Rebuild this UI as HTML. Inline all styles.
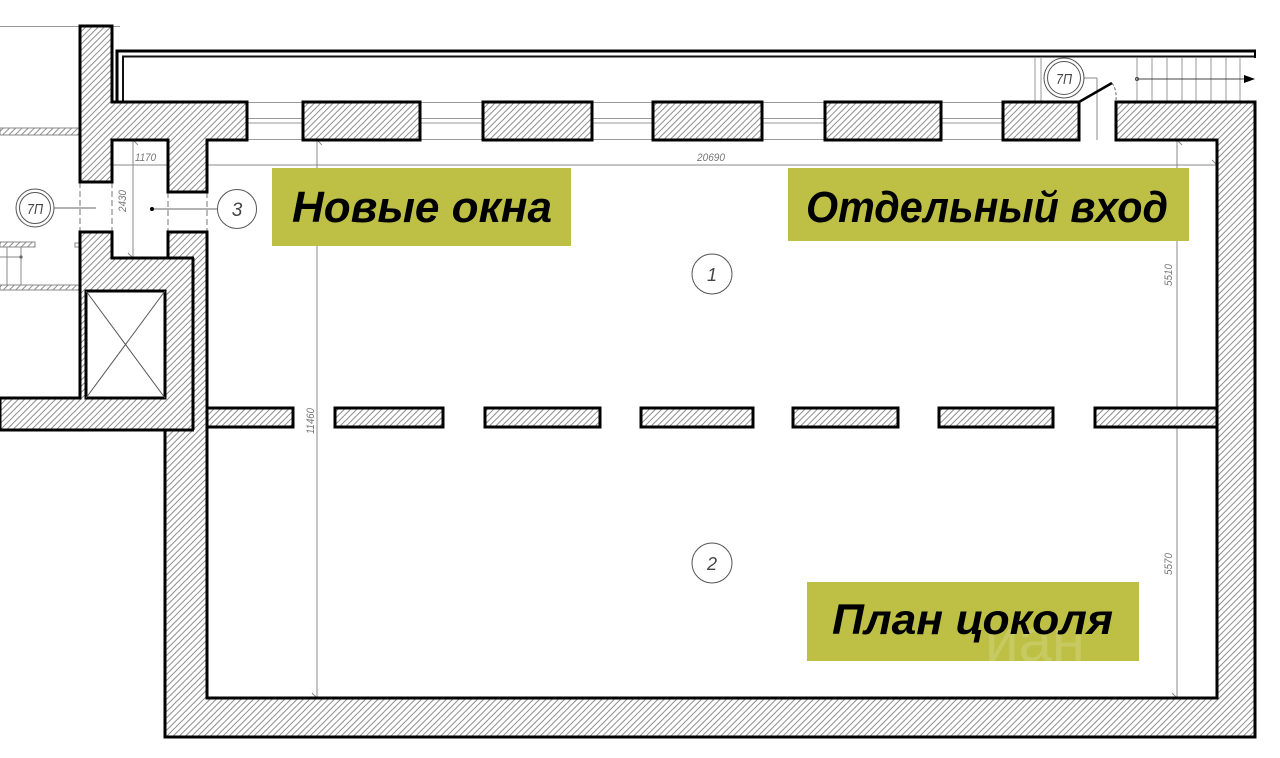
<!DOCTYPE html>
<html><head><meta charset="utf-8"><style>
html,body{margin:0;padding:0;background:#fff;}
svg{display:block;}
.dim{font-family:"Liberation Sans","DejaVu Sans",sans-serif;font-style:italic;font-size:11px;fill:#777;}
.lbl{font-family:"Liberation Sans","DejaVu Sans",sans-serif;font-weight:bold;font-style:italic;fill:#000;}
.num{font-family:"Liberation Sans","DejaVu Sans",sans-serif;font-style:italic;font-size:16px;fill:#444;}
</style></head><body>
<svg width="1280" height="758" viewBox="0 0 1280 758" xmlns="http://www.w3.org/2000/svg">
<defs>
<pattern id="h" patternUnits="userSpaceOnUse" width="4.4" height="4.4" patternTransform="rotate(45)">
<rect width="4.4" height="4.4" fill="#fff"/>
<line x1="0.5" y1="0" x2="0.5" y2="4.4" stroke="#7a7a7a" stroke-width="0.85"/>
</pattern>
</defs>
<rect width="1280" height="758" fill="#fff"/>

<!-- left-side misc -->
<line x1="0" y1="26.5" x2="120" y2="26.5" stroke="#999" stroke-width="1"/>
<rect x="0" y="128" width="80" height="7" fill="url(#h)" stroke="#888" stroke-width="1"/>
<rect x="0" y="242" width="35" height="5" fill="url(#h)" stroke="#888" stroke-width="1"/>
<rect x="75" y="243" width="4" height="4" fill="none" stroke="#888" stroke-width="1"/>
<line x1="7" y1="247" x2="7" y2="285" stroke="#888" stroke-width="1"/>
<line x1="21" y1="247" x2="21" y2="285" stroke="#888" stroke-width="1"/>
<line x1="0" y1="257" x2="21" y2="257" stroke="#888" stroke-width="1"/>
<circle cx="21" cy="257" r="1.6" fill="#666"/>
<rect x="0" y="285" width="80" height="5" fill="url(#h)" stroke="#888" stroke-width="1"/>

<!-- top double line -->
<path d="M117,102 V51 H1255" stroke="#000" stroke-width="3" fill="none"/>
<path d="M123,102 V56.5 H1255" stroke="#111" stroke-width="2" fill="none"/>
<line x1="1255" y1="49.5" x2="1255" y2="58" stroke="#000" stroke-width="2"/>

<!-- window frame lines -->
<g stroke="#999" stroke-width="1">
<line x1="247" y1="102.5" x2="1003" y2="102.5"/>
<line x1="247" y1="118.5" x2="1003" y2="118.5"/>
<line x1="247" y1="123" x2="1003" y2="123"/>
<line x1="247" y1="139.5" x2="1003" y2="139.5"/>
<line x1="1035" y1="57" x2="1035" y2="102"/>
<line x1="1041" y1="57" x2="1041" y2="102"/>
</g>

<!-- stairs -->
<g stroke="#999" stroke-width="1">
<line x1="1137" y1="58" x2="1137" y2="102"/>
<line x1="1152" y1="58" x2="1152" y2="102"/>
<line x1="1167" y1="58" x2="1167" y2="102"/>
<line x1="1182" y1="58" x2="1182" y2="102"/>
<line x1="1196" y1="58" x2="1196" y2="102"/>
<line x1="1211" y1="58" x2="1211" y2="102"/>
<line x1="1226" y1="58" x2="1226" y2="102"/>
<line x1="1240" y1="58" x2="1240" y2="102"/>
</g>
<line x1="1137" y1="79" x2="1246" y2="79" stroke="#444" stroke-width="1"/>
<circle cx="1137" cy="79" r="1.5" fill="none" stroke="#444"/>
<polygon points="1244,75 1255,79 1244,83" fill="#000"/>

<!-- dimension lines -->
<g stroke="#888" stroke-width="1" fill="none">
<line x1="103" y1="165" x2="1226" y2="165"/>
<line x1="317" y1="133" x2="317" y2="705"/>
<line x1="1177" y1="130" x2="1177" y2="705"/>
<line x1="133" y1="130" x2="133" y2="265"/>
<line x1="312" y1="135" x2="322" y2="145"/>
<line x1="312" y1="693" x2="322" y2="703"/>
<line x1="1172" y1="135" x2="1182" y2="145"/>
<line x1="1172" y1="413" x2="1182" y2="423"/>
<line x1="1172" y1="693" x2="1182" y2="703"/>
<line x1="1212" y1="160" x2="1222" y2="170"/>
<line x1="128" y1="135" x2="138" y2="145"/>
<line x1="128" y1="253" x2="138" y2="263"/>
<line x1="1097" y1="78" x2="1097" y2="140"/>
<line x1="1084" y1="78" x2="1097" y2="78"/>
</g>
<g stroke="#777" stroke-width="1" stroke-dasharray="6 3">
<line x1="80" y1="182" x2="80" y2="232"/>
<line x1="112" y1="182" x2="112" y2="232"/>
<line x1="168" y1="192" x2="168" y2="232"/>
<line x1="207" y1="192" x2="207" y2="232"/>
</g>

<!-- partition -->
<g fill="url(#h)" stroke="#000" stroke-width="3">
<rect x="207" y="408" width="86" height="19"/>
<rect x="335" y="408" width="108" height="19"/>
<rect x="485" y="408" width="115" height="19"/>
<rect x="641" y="408" width="112" height="19"/>
<rect x="793" y="408" width="105" height="19"/>
<rect x="939" y="408" width="114" height="19"/>
<rect x="1095" y="408" width="122" height="19"/>
</g>

<!-- walls -->
<g fill="url(#h)" stroke="#000" stroke-width="3" stroke-linejoin="miter">
<polygon points="80,26 112,26 112,102 247,102 247,140 207,140 207,192 168,192 168,140 112,140 112,182 80,182"/>
<polygon points="1116,102 1255,102 1255,737 165,737 165,430 0,430 0,398 80,398 80,232 112,232 112,258 168,258 168,232 207,232 207,698 1217,698 1217,140 1116,140"/>
<rect x="303" y="102" width="117" height="38"/>
<rect x="483" y="102" width="109" height="38"/>
<rect x="653" y="102" width="109" height="38"/>
<rect x="825" y="102" width="116" height="38"/>
<rect x="1003" y="102" width="76" height="38"/>
</g>
<g stroke="#000" stroke-width="3">
<line x1="193" y1="258" x2="193" y2="430"/>
<line x1="166" y1="258" x2="194" y2="258"/>
<line x1="164" y1="430" x2="194" y2="430"/>
</g>
<rect x="86" y="291" width="79" height="107" fill="#fff" stroke="#000" stroke-width="3"/>
<line x1="86" y1="291" x2="165" y2="398" stroke="#555" stroke-width="1"/>
<line x1="165" y1="291" x2="86" y2="398" stroke="#555" stroke-width="1"/>

<!-- door -->
<line x1="1079" y1="102" x2="1112" y2="83" stroke="#000" stroke-width="2.5"/>
<path d="M1112,83 Q1117,90 1116,100" stroke="#666" stroke-width="1" fill="none" stroke-dasharray="3 2"/>

<!-- circles -->
<circle cx="35" cy="208" r="19" fill="#fff" stroke="#555" stroke-width="1"/>
<circle cx="35" cy="208" r="15.5" fill="none" stroke="#555" stroke-width="1"/>
<text x="35" y="214" class="num" text-anchor="middle" style="font-size:15px" textLength="16" lengthAdjust="spacingAndGlyphs">7П</text>
<line x1="54" y1="208" x2="96" y2="208" stroke="#666" stroke-width="1"/>
<circle cx="1064" cy="78" r="20" fill="#fff" stroke="#555" stroke-width="1"/>
<circle cx="1064" cy="78" r="16.5" fill="none" stroke="#555" stroke-width="1"/>
<text x="1064" y="84" class="num" text-anchor="middle" style="font-size:15px" textLength="16" lengthAdjust="spacingAndGlyphs">7П</text>
<line x1="152" y1="209" x2="218" y2="209" stroke="#666" stroke-width="1"/>
<circle cx="152" cy="209" r="2" fill="#000"/>
<circle cx="237" cy="209" r="19.5" fill="#fff" stroke="#555" stroke-width="1"/>
<text x="237" y="216" class="num" text-anchor="middle" style="font-size:19px">3</text>
<circle cx="712" cy="274" r="20" fill="#fff" stroke="#555" stroke-width="1"/>
<text x="712" y="281" class="num" text-anchor="middle" style="font-size:18px">1</text>
<circle cx="712" cy="563" r="20" fill="#fff" stroke="#555" stroke-width="1"/>
<text x="712" y="570" class="num" text-anchor="middle" style="font-size:18px">2</text>

<!-- dimension texts -->
<text x="697" y="161" class="dim" textLength="28" lengthAdjust="spacingAndGlyphs">20690</text>
<text x="135" y="161" class="dim" textLength="21" lengthAdjust="spacingAndGlyphs">1170</text>
<text class="dim" transform="translate(126,212) rotate(-90)" textLength="22" lengthAdjust="spacingAndGlyphs">2430</text>
<text class="dim" transform="translate(314,434) rotate(-90)" textLength="26" lengthAdjust="spacingAndGlyphs">11460</text>
<text class="dim" transform="translate(1172,286) rotate(-90)" textLength="22" lengthAdjust="spacingAndGlyphs">5510</text>
<text class="dim" transform="translate(1172,575) rotate(-90)" textLength="22" lengthAdjust="spacingAndGlyphs">5570</text>

<!-- labels -->
<rect x="272" y="168" width="299" height="78" fill="#bec046"/>
<text x="292" y="222" class="lbl" font-size="44" textLength="260" lengthAdjust="spacingAndGlyphs">Новые окна</text>
<rect x="788" y="168" width="401" height="73" fill="#bec046"/>
<text x="806" y="222" class="lbl" font-size="44" textLength="362" lengthAdjust="spacingAndGlyphs">Отдельный вход</text>
<rect x="807" y="582" width="332" height="79" fill="#bec046"/>
<text x="985" y="661" font-family="Liberation Sans, DejaVu Sans, sans-serif" font-size="60" fill="#fff" fill-opacity="0.15">иан</text>
<text x="832" y="634" class="lbl" font-size="43" textLength="281" lengthAdjust="spacingAndGlyphs">План цоколя</text>
</svg>
</body></html>
